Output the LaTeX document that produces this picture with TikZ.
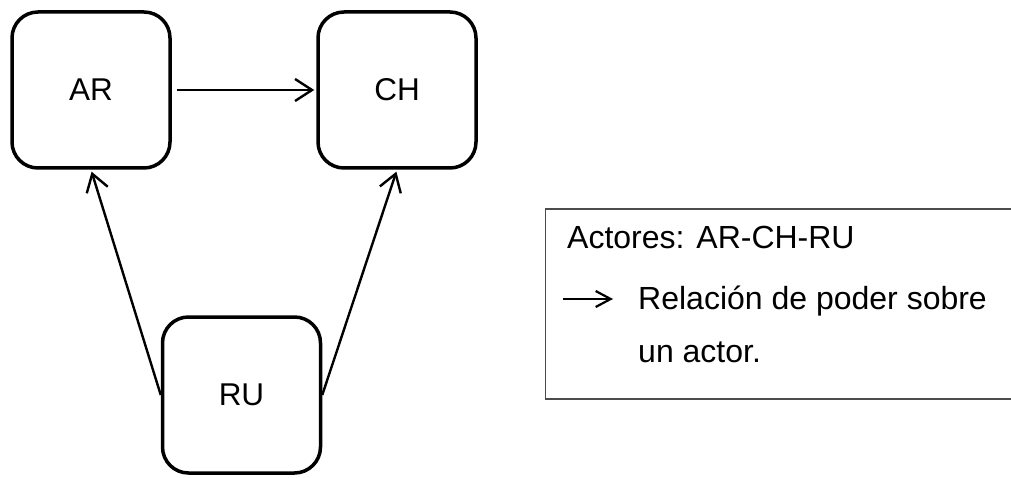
\documentclass[tikz,border=0pt]{standalone}
\usepackage{fontspec}
\setmainfont{Liberation Sans}
\usetikzlibrary{arrows.meta}

\begin{document}
\begin{tikzpicture}[x=1pt, y=-1pt,
    actor/.style={draw, line width=3.5pt, rounded corners=26pt,
      minimum width=158pt, minimum height=156pt,
      font=\fontsize{31.5}{37}\selectfont},
    power/.style={line width=2.4pt, -{Straight Barb[length=17pt,width=22pt]}},
    legend/.style={anchor=base west, inner sep=0pt,
      font=\fontsize{32}{38}\selectfont}
    ]
    \useasboundingbox (0,0) rectangle (1011,478);
    \node[actor] (ar) at (91,90) {AR};
    \node[actor] (ch) at (397,90) {CH};
    \node[actor] (ru) at (241.5,395) {RU};
    \draw[power, shorten <=5pt, shorten >=2pt] (ar.east) -- (ch.west);
    \draw[power, shorten >=2pt] (ru.west) -- (ar.south);
    \draw[power, shorten >=2pt] (ru.east) -- (ch.south);
    \draw[line width=1.3pt, black!70] (1013,209) -- (545.5,209) -- (545.5,399) -- (1013,399);
    \node[legend] (actores) at (567,249) {Actores: AR-CH-RU};
    \node[legend] (relacion) at (638,309) {Relación de poder sobre};
    \node[legend] (actor) at (638,362) {un actor.};
    \coordinate (key start) at (563,299);
    \coordinate (key end) at (613,299);
    \draw[line width=2.2pt, -{Straight Barb[length=15pt,width=16pt]}] (key start) -- (key end);
  \end{tikzpicture}
\end{document}
